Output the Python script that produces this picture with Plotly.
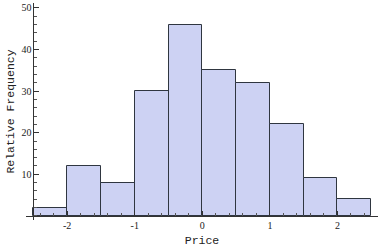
import plotly.graph_objects as go

bin_left = [-2.5, -2.0, -1.5, -1.0, -0.5, 0.0, 0.5, 1.0, 1.5, 2.0]
bin_width = 0.5
counts = [2, 12, 8, 30, 46, 35, 32, 22, 9, 4]
x_ticks = [-2, -1, 0, 1, 2]
y_ticks = [10, 20, 30, 40, 50]

centers = [b + bin_width / 2 for b in bin_left]

SERIF = "'Liberation Serif'"
MONO = "'Liberation Mono'"

fig = go.Figure(go.Bar(
    x=centers, y=counts, width=[bin_width] * len(counts),
    marker=dict(color="#cdd2f3", line=dict(color="#2f3640", width=1)),
    hoverinfo="skip",
))

xr = [-2.61, 2.6]
yr = [-1.0, 51.2]

fig.update_layout(
    width=379, height=248,
    margin=dict(l=26, r=1, t=3, b=28),
    paper_bgcolor="white", plot_bgcolor="white",
    showlegend=False,
    bargap=0,
    xaxis=dict(
        range=xr, showgrid=False, zeroline=False,
        showline=True, linecolor="#333333", linewidth=1,
        anchor="free", position=(0 - yr[0]) / (yr[1] - yr[0]),
        tickvals=x_ticks, ticktext=[str(v) if v >= 0 else "-" + str(-v) for v in x_ticks],
        ticks="inside", ticklen=5, tickcolor="#333333", tickwidth=1,
        minor=dict(dtick=0.2, tick0=0, ticks="inside", ticklen=3, tickcolor="#555555"),
        tickfont=dict(family=SERIF, size=10, color="#222222"),
        title=dict(text="Price", font=dict(family=MONO, size=11.5, color="#222222"), standoff=6),
    ),
    yaxis=dict(
        range=yr, showgrid=False, zeroline=False,
        showline=True, linecolor="#333333", linewidth=1,
        anchor="free", position=(-2.5 - xr[0]) / (xr[1] - xr[0]),
        tickvals=y_ticks,
        ticks="inside", ticklen=5, tickcolor="#333333", tickwidth=1,
        minor=dict(dtick=2, tick0=0, ticks="inside", ticklen=3, tickcolor="#555555"),
        tickfont=dict(family=SERIF, size=10, color="#222222"),
        title=dict(text="Relative Frequency", font=dict(family=MONO, size=11.5, color="#222222"), standoff=3),
    ),
)

fig.write_html("out.html")
